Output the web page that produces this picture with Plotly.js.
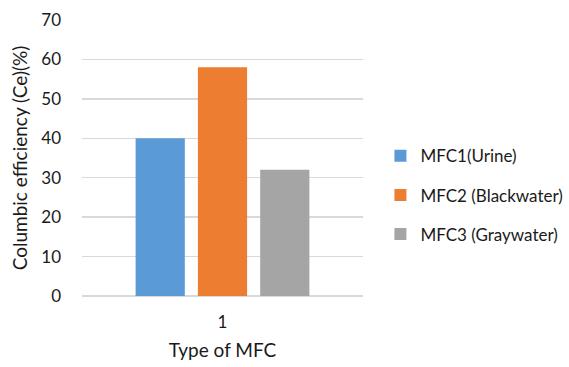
<!DOCTYPE html>
<html>
<head>
<meta charset="utf-8">
<script src="https://cdn.plot.ly/plotly-3.0.1.min.js"></script>
<style>
  html, body { margin: 0; padding: 0; background: #fff; }
  #chart { width: 569px; height: 367px; }
</style>
</head>
<body>
<div id="chart"></div>
<script>
// Coulombic efficiency by MFC type
const categories = ["1"];
const seriesNames = ["MFC1(Urine)", "MFC2 (Blackwater)", "MFC3 (Graywater)"];
const seriesValues = [[40], [58], [32]];
const seriesColors = ["#5b9bd5", "#ed7d31", "#a5a5a5"];
const yTicks = [0, 10, 20, 30, 40, 50, 60, 70];

const fam = "Lato, Open Sans, sans-serif";
const ink = "#1a1a1a";

const traces = seriesNames.map((name, i) => ({
  type: "bar",
  name: name,
  x: categories,
  y: seriesValues[i],
  marker: { color: seriesColors[i] },
  legendgroup: "g" + i,
  hoverinfo: "skip"
}));

const layout = {
  width: 569,
  height: 367,
  margin: { l: 82, r: 206, t: 20, b: 71, autoexpand: false },
  paper_bgcolor: "#fff",
  plot_bgcolor: "#fff",
  font: { family: fam, size: 17, color: ink },
  barmode: "group",
  bargap: 0.335,
  bargroupgap: 0.21,
  showlegend: true,
  legend: {
    x: 1.062, xanchor: "left",
    y: 0.365, yanchor: "middle",
    traceorder: "grouped",
    tracegroupgap: 14,
    font: { family: fam, size: 17, color: ink },
    itemwidth: 30
  },
  xaxis: {
    type: "category",
    range: [-0.5, 0.5],
    showgrid: false,
    showline: false,
    zeroline: false,
    ticks: "",
    ticklabelstandoff: 14,
    title: { text: "Type of MFC", font: { family: fam, size: 19, color: ink }, standoff: 12 },
    fixedrange: true
  },
  yaxis: {
    range: [0, 70],
    tickvals: yTicks,
    ticktext: yTicks.map(String),
    showgrid: true,
    gridcolor: "#d9d9d9",
    gridwidth: 1.3,
    zeroline: true,
    zerolinecolor: "#d9d9d9",
    zerolinewidth: 1.3,
    showline: false,
    ticks: "",
    ticklabelstandoff: 20,
    title: { text: "Columbic efficiency (Ce)(%)", font: { family: fam, size: 19, color: ink }, standoff: 8 },
    fixedrange: true
  }
};

Plotly.newPlot("chart", traces, layout, { displayModeBar: false, staticPlot: true });
</script>
</body>
</html>
